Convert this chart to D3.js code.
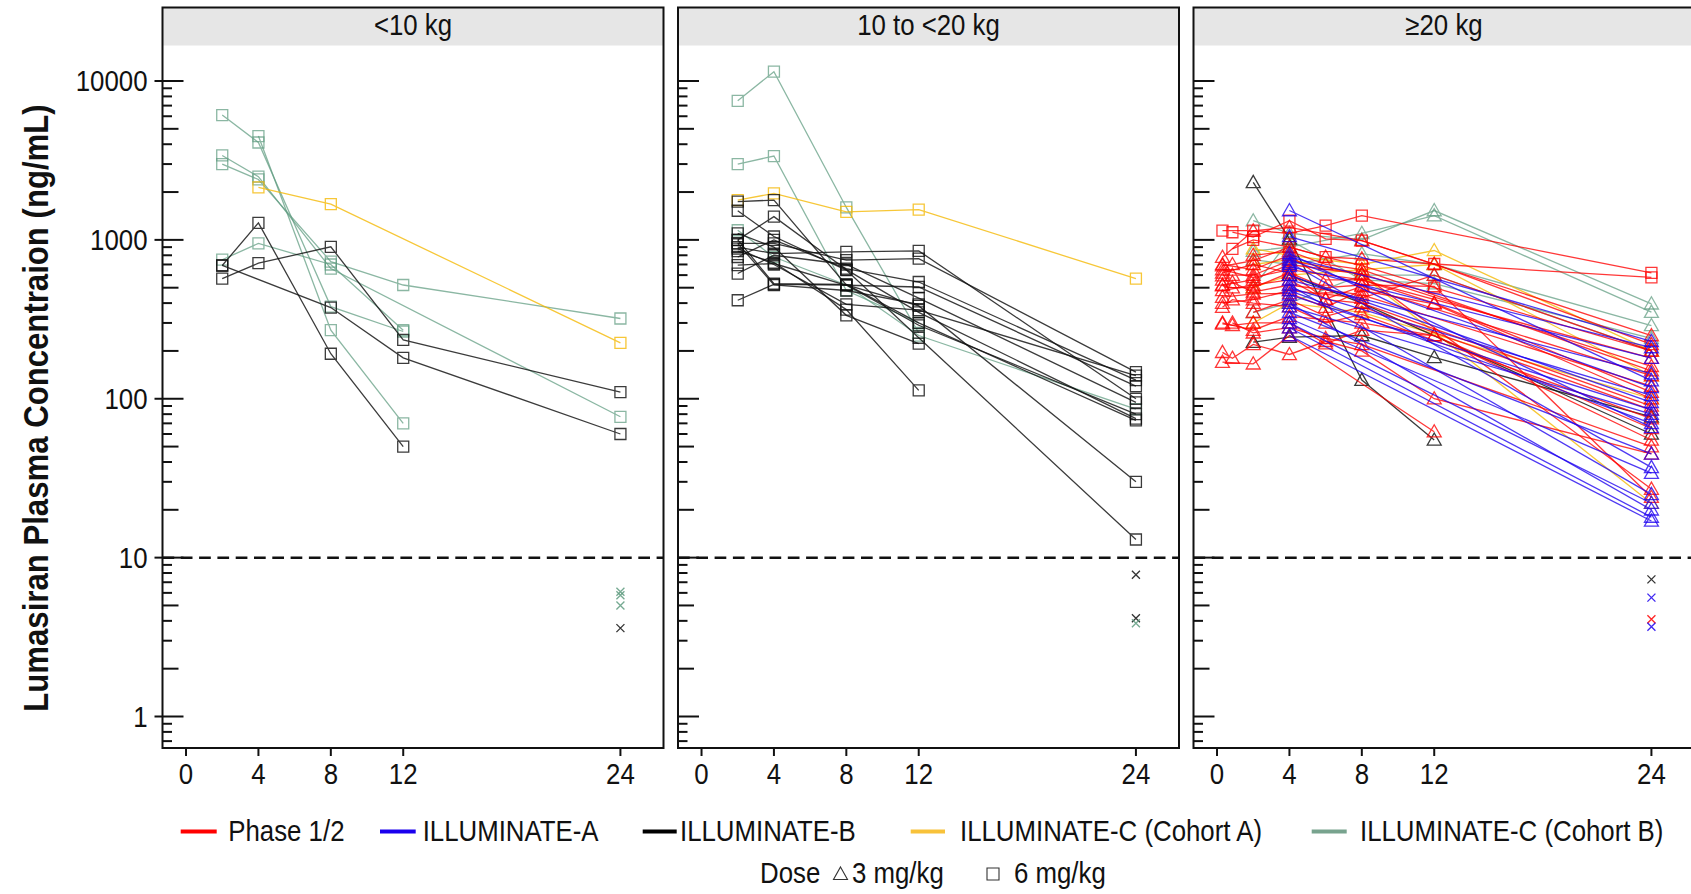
<!DOCTYPE html>
<html>
<head>
<meta charset="utf-8">
<script src="https://cdn.jsdelivr.net/npm/d3@7"></script>
<style>
  body { margin: 0; background: #fff; }
  svg { display: block; font-family: "Liberation Sans", Arial, sans-serif; }
</style>
</head>
<body>
<svg id="chart" width="1691" height="894"></svg>
<script>
const panelLabels = ["<10 kg", "10 to <20 kg", "\u226520 kg"];
const studies = ["Phase 1/2", "ILLUMINATE-A", "ILLUMINATE-B", "ILLUMINATE-C (Cohort A)", "ILLUMINATE-C (Cohort B)"];
const doseLabels = ["3 mg/kg", "6 mg/kg"];
const xTickValues = [0, 4, 8, 12, 24];
const yLabelValues = [1, 10, 100, 1000, 10000];
const lloq = 10;

// one row per patient: [study index, dose mg/kg, [[month, ng/mL], ...]]
const subjectsUnder10 = [
  [4, 6, [[2, 6100], [4, 4100], [8, 380], [12, 265]]],
  [4, 6, [[4, 4500], [8, 270], [12, 70]]],
  [4, 6, [[2, 3400], [4, 2500], [8, 660], [24, 77]]],
  [4, 6, [[2, 3000], [4, 2400], [8, 730], [12, 520], [24, 320]]],
  [4, 6, [[2, 750], [4, 950], [8, 700], [12, 270]]],
  [3, 6, [[4, 2140], [8, 1680], [24, 225]]],
  [2, 6, [[2, 690], [4, 1280], [8, 192], [12, 50]]],
  [2, 6, [[2, 570], [4, 713], [8, 904], [12, 235], [24, 110]]],
  [2, 6, [[2, 690], [8, 375], [12, 181], [24, 60]]]
];

const subjects10to20 = [
  [4, 6, [[2, 7500], [4, 11450], [8, 1600], [12, 260]]],
  [4, 6, [[2, 3000], [4, 3370], [8, 480], [12, 300]]],
  [4, 6, [[2, 1150], [4, 780], [8, 520], [12, 250], [24, 86]]],
  [3, 6, [[2, 1780], [4, 1960], [8, 1500], [12, 1550], [24, 570]]],
  [2, 6, [[2, 1740], [4, 1780], [8, 520], [12, 384], [24, 30]]],
  [2, 6, [[2, 1525], [4, 1050], [8, 645], [12, 242], [24, 13]]],
  [2, 6, [[2, 1000], [4, 1400], [8, 650], [12, 350], [24, 75]]],
  [2, 6, [[2, 900], [4, 820], [8, 840], [12, 853], [24, 100]]],
  [2, 6, [[2, 950], [4, 950], [8, 745], [12, 762], [24, 147]]],
  [2, 6, [[2, 780], [4, 1000], [8, 660], [12, 543], [24, 131]]],
  [2, 6, [[2, 693], [4, 710], [8, 518], [12, 505], [24, 120]]],
  [2, 6, [[2, 614], [4, 800], [8, 700], [12, 430], [24, 95]]],
  [2, 6, [[2, 417], [4, 525], [8, 520], [12, 290], [24, 80]]],
  [2, 6, [[2, 1000], [4, 530], [8, 525], [12, 300], [24, 73]]],
  [2, 6, [[2, 850], [4, 720], [8, 364], [12, 113]]],
  [2, 6, [[2, 1100], [4, 900], [8, 335], [12, 222]]],
  [2, 6, [[2, 950], [4, 520], [8, 480], [12, 393]]],
  [2, 6, [[2, 880], [4, 700], [8, 393], [12, 361], [24, 140]]]
];

const subjectsOver20 = [
  [4, 3, [[2, 1320], [4, 1100], [8, 1000], [12, 1530], [24, 396]]],
  [4, 3, [[2, 850], [4, 900], [8, 1100], [12, 1420], [24, 351]]],
  [4, 3, [[2, 750], [4, 700], [8, 820], [12, 700], [24, 289]]],
  [4, 3, [[2, 500], [4, 1000], [8, 560], [12, 530], [24, 240]]],
  [4, 3, [[2, 350], [4, 400], [8, 600], [12, 600], [24, 200]]],
  [3, 3, [[2, 880], [4, 800], [8, 700], [12, 857], [24, 200]]],
  [3, 3, [[2, 500], [4, 600], [8, 650], [12, 700], [24, 140]]],
  [3, 3, [[2, 700], [4, 750], [8, 600], [24, 22]]],
  [3, 3, [[2, 300], [4, 400], [8, 350], [24, 100]]],
  [2, 3, [[2, 2300], [4, 1015], [8, 131], [12, 55]]],
  [2, 3, [[2, 227], [4, 244], [8, 250], [12, 182], [24, 77]]],
  [2, 3, [[4, 600], [8, 400], [24, 60]]],
  [0, 6, [[0.3, 1145], [2, 1145], [4, 1100], [6, 1230], [8, 1420], [24, 620]]],
  [0, 6, [[0.85, 1117], [2, 1040], [4, 1320], [6, 1015], [8, 990], [12, 705], [24, 580]]],
  [0, 6, [[0.85, 878], [2, 1000], [4, 900], [6, 778], [8, 689], [12, 500], [24, 200]]],
  [0, 3, [[0.3, 778], [2, 1140], [4, 1200], [8, 990], [24, 250]]],
  [0, 3, [[0.3, 689], [0.85, 700], [2, 740], [4, 900], [6, 780], [8, 760], [12, 705], [24, 220]]],
  [0, 3, [[0.3, 595], [0.85, 600], [2, 600], [4, 740], [8, 610], [24, 160]]],
  [0, 3, [[0.3, 516], [0.85, 500], [2, 500], [4, 620], [6, 425], [8, 510], [24, 140]]],
  [0, 3, [[0.3, 436], [2, 457], [4, 460], [6, 377], [8, 480], [12, 395], [24, 100]]],
  [0, 3, [[0.3, 377], [0.85, 420], [2, 400], [4, 380], [6, 300], [8, 340], [24, 75]]],
  [0, 3, [[0.3, 296], [0.85, 290], [2, 300], [4, 300], [6, 222], [8, 270], [12, 250], [24, 55]]],
  [0, 3, [[0.3, 196], [0.85, 180], [2, 220], [4, 190], [6, 230], [8, 200], [12, 100], [24, 45]]],
  [0, 3, [[0.3, 170], [2, 166], [4, 250], [12, 62]]],
  [0, 3, [[0.3, 700], [2, 650], [4, 800], [6, 560], [8, 560], [24, 180]]],
  [0, 3, [[0.3, 560], [0.85, 540], [2, 470], [4, 520], [8, 450], [24, 120]]],
  [0, 3, [[0.3, 480], [2, 520], [4, 560], [6, 420], [8, 400], [24, 90]]],
  [0, 3, [[0.3, 300], [2, 270], [4, 330], [8, 300], [12, 250], [24, 65]]],
  [0, 3, [[0.3, 620], [2, 700], [4, 620], [6, 500], [8, 520], [12, 510], [24, 24]]],
  [0, 3, [[0.3, 520], [2, 560], [4, 700], [8, 610], [24, 27]]],
  [0, 3, [[0.3, 400], [2, 420], [4, 480], [8, 430], [12, 600], [24, 200]]],
  [0, 3, [[0.85, 300], [2, 260], [4, 280], [6, 240], [8, 220], [24, 50]]],
  [0, 3, [[2, 800], [4, 850], [6, 700], [8, 650], [24, 150]]],
  [0, 3, [[0.3, 650], [2, 580], [4, 650], [8, 560], [12, 400], [24, 110]]],
  [0, 3, [[2, 350], [4, 420], [6, 330], [8, 380], [24, 85]]],
  [1, 3, [[4, 1530], [24, 130]]],
  [1, 3, [[4, 1050], [24, 230]]],
  [1, 3, [[4, 820], [24, 66]]],
  [1, 3, [[4, 780], [24, 210]]],
  [1, 3, [[4, 750], [24, 118]]],
  [1, 3, [[4, 720], [24, 37]]],
  [1, 3, [[4, 680], [24, 180]]],
  [1, 3, [[4, 600], [24, 95]]],
  [1, 3, [[4, 560], [24, 144]]],
  [1, 3, [[4, 520], [24, 25]]],
  [1, 3, [[4, 500], [24, 105]]],
  [1, 3, [[4, 480], [24, 70]]],
  [1, 3, [[4, 450], [24, 85]]],
  [1, 3, [[4, 400], [24, 20]]],
  [1, 3, [[4, 380], [24, 80]]],
  [1, 3, [[4, 350], [24, 45]]],
  [1, 3, [[4, 320], [24, 34]]],
  [1, 3, [[4, 300], [24, 22]]],
  [1, 3, [[4, 280], [24, 18]]],
  [1, 3, [[4, 250], [24, 17]]],
  [1, 3, [[4, 700]]],
  [1, 3, [[4, 420]]]
];

// concentrations below the LLOQ at month 24: [study index, ng/mL]
const blqUnder10 = [[4, 6.1], [4, 5.8], [4, 5.0], [2, 3.6]];
const blq10to20 = [[2, 7.8], [2, 4.15], [4, 3.86]];
const blqOver20 = [[2, 7.3], [1, 5.6], [0, 4.09], [1, 3.67]];

// ---- styling / layout ----
const studyColors = ["#ff0000", "#1d00f0", "#111111", "#f5b800", "#5f9c80"];
const legendColors = ["#ff0000", "#1a00ee", "#000000", "#f8c23a", "#78a38e"];
const drawOrder = [4, 3, 2, 0, 1];

const svg = d3.select("#chart");
const panelX = [162.5, 678, 1193.5];
const panelW = 501;
const frameTop = 7.5, stripBottom = 45.5, plotBottom = 748;
const squeeze = 0.89; // the original font is a narrow grotesque
const fs = 29;

const x = d3.scaleLinear().domain([-1.3, 26.38]).range([0, panelW]);
const y = d3.scaleLog().domain([1, 10000]).range([716.5, 81]);

const panelData = [
  { subjects: subjectsUnder10, blq: blqUnder10 },
  { subjects: subjects10to20, blq: blq10to20 },
  { subjects: subjectsOver20, blq: blqOver20 }
];

const line = d3.line().x(d => x(d[0])).y(d => y(d[1]));
const squarePath = "M-5.5,-5.5H5.5V5.5H-5.5Z";
const trianglePath = "M0,-7L7,5.2H-7Z";

function label(sel, tx, ty, txt, anchor = "start", size = fs) {
  return sel.append("text")
    .attr("transform", `translate(${tx},${ty}) scale(${squeeze},1)`)
    .attr("text-anchor", anchor)
    .attr("font-size", size)
    .attr("fill", "#111")
    .text(txt);
}

// tick values within the visible range
const tickVals = [];
for (let e = -1; e <= 4; e++) {
  for (let m = 1; m <= 9; m++) {
    const v = m * Math.pow(10, e);
    const py = y(v);
    if (py > stripBottom && py < plotBottom) tickVals.push({ v, m });
  }
}

panelLabels.forEach((lab, i) => {
  const g = svg.append("g").attr("transform", `translate(${panelX[i]},0)`);

  g.append("rect")
    .attr("x", 0).attr("y", frameTop)
    .attr("width", panelW).attr("height", stripBottom - frameTop)
    .attr("fill", "#e6e6e6");

  label(g, panelW / 2, 35, lab, "middle");

  // y ticks (inward)
  g.selectAll(".ytick")
    .data(tickVals)
    .enter()
    .append("line")
    .attr("x1", d => (i === 0 && d.m === 1 ? -8 : 0))
    .attr("x2", d => (d.m === 1 ? 21 : (d.m === 2 || d.m === 5) ? 16 : 9.5))
    .attr("y1", d => y(d.v)).attr("y2", d => y(d.v))
    .attr("stroke", "#111").attr("stroke-width", 2);

  if (i === 0) {
    yLabelValues.forEach(v => label(g, -15, y(v) + 10.3, v, "end"));
  }

  // x ticks
  g.selectAll(".xtick")
    .data(xTickValues)
    .enter()
    .append("line")
    .attr("x1", d => x(d)).attr("x2", d => x(d))
    .attr("y1", plotBottom).attr("y2", plotBottom + 8)
    .attr("stroke", "#111").attr("stroke-width", 2);

  xTickValues.forEach(v => label(g, x(v), 784, v, "middle"));

  // LLOQ reference line
  g.append("line")
    .attr("x1", 0).attr("x2", panelW)
    .attr("y1", y(lloq)).attr("y2", y(lloq))
    .attr("stroke", "#111").attr("stroke-width", 2.5)
    .attr("stroke-dasharray", "11.7,6.6");

  const { subjects, blq } = panelData[i];
  const ordered = drawOrder.flatMap(s => subjects.filter(d => d[0] === s));

  const subj = g.selectAll(".subject")
    .data(ordered)
    .enter()
    .append("g")
    .attr("opacity", d => (d[0] === 4 ? 0.72 : d[0] === 2 ? 0.82 : 0.78));

  subj.append("path")
    .attr("d", d => line(d[2]))
    .attr("fill", "none")
    .attr("stroke", d => studyColors[d[0]])
    .attr("stroke-width", 1.3);

  subj.each(function (d) {
    d3.select(this).selectAll("path.mk")
      .data(d[2])
      .enter()
      .append("path")
      .attr("class", "mk")
      .attr("transform", p => `translate(${x(p[0])},${y(p[1])})`)
      .attr("d", d[1] === 3 ? trianglePath : squarePath)
      .attr("fill", "none")
      .attr("stroke", studyColors[d[0]])
      .attr("stroke-width", 1.3);
  });

  g.selectAll(".blq")
    .data(blq)
    .enter()
    .append("path")
    .attr("transform", d => `translate(${x(24)},${y(d[1])})`)
    .attr("d", "M-4,-4L4,4M-4,4L4,-4")
    .attr("stroke", d => studyColors[d[0]])
    .attr("stroke-width", 1.3)
    .attr("opacity", 0.85);

  // frame
  g.append("rect")
    .attr("x", 0).attr("y", frameTop)
    .attr("width", panelW).attr("height", plotBottom - frameTop)
    .attr("fill", "none")
    .attr("stroke", "#111").attr("stroke-width", 2);
});

// y axis title
svg.append("text")
  .attr("transform", `translate(48,408) rotate(-90) scale(${squeeze},1)`)
  .attr("text-anchor", "middle")
  .attr("font-size", 35)
  .attr("font-weight", "bold")
  .attr("fill", "#111")
  .text("Lumasiran Plasma Concentraion (ng/mL)");

// legend: studies
const legendX = [[180.7, 216.7, 228.3], [380, 415.7, 422.7], [642.7, 676.7, 680], [910.7, 945, 960], [1311.7, 1346.7, 1360]];
studies.forEach((s, i) => {
  svg.append("line")
    .attr("x1", legendX[i][0]).attr("x2", legendX[i][1])
    .attr("y1", 831.5).attr("y2", 831.5)
    .attr("stroke", legendColors[i])
    .attr("stroke-width", 4);
  label(svg, legendX[i][2], 841, s);
});

// legend: dose
label(svg, 760, 883, "Dose");
svg.append("path")
  .attr("transform", "translate(840.5,874)")
  .attr("d", "M0,-7L7,5.5H-7Z")
  .attr("fill", "none").attr("stroke", "#333").attr("stroke-width", 1.1);
label(svg, 852, 883, doseLabels[0]);
svg.append("path")
  .attr("transform", "translate(993,874)")
  .attr("d", "M-6,-6H6V6H-6Z")
  .attr("fill", "none").attr("stroke", "#333").attr("stroke-width", 1.1);
label(svg, 1014, 883, doseLabels[1]);
</script>
</body>
</html>
